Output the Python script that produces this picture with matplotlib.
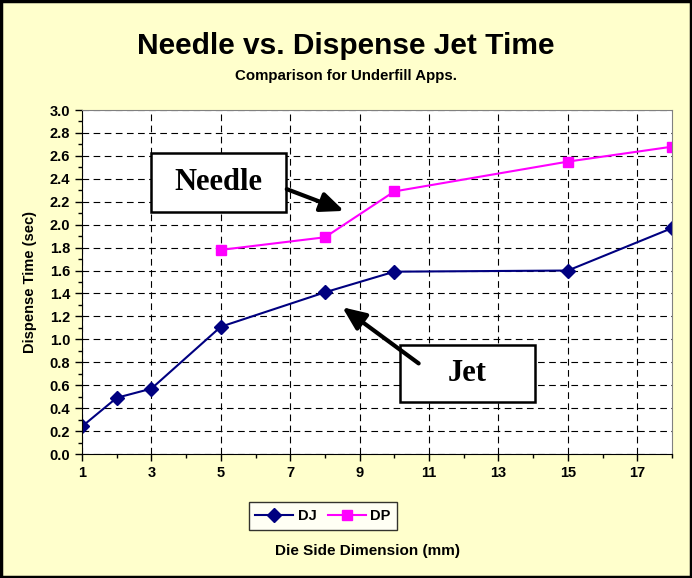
import matplotlib.pyplot as plt
from matplotlib.ticker import MultipleLocator
from matplotlib.patches import Rectangle

plt.rcParams['font.family'] = ['Liberation Sans', 'DejaVu Sans']

dj_x = [1, 2, 3, 5, 8, 10, 15, 18]
dj_y = [0.24, 0.49, 0.57, 1.11, 1.41, 1.59, 1.60, 1.97]
dp_x = [5, 8, 10, 15, 18]
dp_y = [1.78, 1.89, 2.29, 2.55, 2.68]

BG = '#FFFFCC'

fig = plt.figure(figsize=(6.92, 5.78), dpi=100, facecolor=BG)
fig.patches.append(Rectangle((0.002, 0.002), 0.996, 0.996, transform=fig.transFigure,
                             fill=False, edgecolor='black', linewidth=2.5))

ax = fig.add_axes([82 / 692, 1 - 454 / 578, 590 / 692, 344 / 578])
ax.set_facecolor('white')

ax.plot(dj_x, dj_y, color='#000080', marker='D', markersize=7, linewidth=1.5, label='DJ')
ax.plot(dp_x, dp_y, color='#FF00FF', marker='s', markersize=7, linewidth=1.5, label='DP')

ax.set_xlim(1, 18)
ax.set_ylim(0, 3.0)
ax.xaxis.set_minor_locator(MultipleLocator(1))
ax.set_xticks(range(1, 18, 2))
ax.yaxis.set_major_locator(MultipleLocator(0.2))
ax.yaxis.set_minor_locator(MultipleLocator(0.1))
ax.yaxis.set_major_formatter(plt.FormatStrFormatter('%.1f'))
ax.grid(True, which='major', color='black', linestyle=(0, (6, 4)), linewidth=0.8)
ax.tick_params(which='both', direction='out', labelsize=10.5, width=1)
ax.tick_params(which='major', length=5)
ax.tick_params(which='minor', length=3)
for lbl in ax.get_xticklabels() + ax.get_yticklabels():
    lbl.set_fontweight('bold')
for side in ['top', 'right']:
    ax.spines[side].set_color('#808080')

ax.set_ylabel('Dispense Time (sec)', fontsize=10.5, fontweight='bold')
ax.yaxis.set_label_coords(-0.076, 0.5)
ax.set_xlabel('Die Side Dimension (mm)', fontsize=11, fontweight='bold')
ax.xaxis.set_label_coords(0.484, -0.262)

fig.text(0.5, 1 - 46 / 578, 'Needle vs. Dispense Jet Time', ha='center', va='center',
         fontsize=21.5, fontweight='bold')
fig.text(0.5, 1 - 76 / 578, 'Comparison for Underfill Apps.', ha='center', va='center',
         fontsize=10.8, fontweight='bold')

leg = ax.legend(loc='center', bbox_to_anchor=(323 / 692, 1 - 516 / 578),
                bbox_transform=fig.transFigure, ncol=2, frameon=True, fancybox=False,
                prop={'weight': 'bold', 'size': 10.5}, handlelength=2.6, columnspacing=0.8,
                handletextpad=0.3, borderpad=0.45)
leg.get_frame().set_edgecolor('black')
leg.get_frame().set_linewidth(1)

# callout boxes (drawn in data coordinates)
ax.add_patch(Rectangle((2.99, 2.11), 3.89, 0.515, facecolor='white', edgecolor='black',
                       linewidth=1.8, zorder=5))
ax.text(4.93, 2.365, 'Needle', ha='center', va='center', fontsize=22, fontweight='bold',
        family='Liberation Serif', zorder=6)
ax.annotate('', xy=(8.55, 2.12), xytext=(6.9, 2.31),
            arrowprops=dict(arrowstyle='-|>,head_width=0.6,head_length=1.4', color='black',
                            linewidth=3, shrinkA=0, shrinkB=0), zorder=6)
ax.add_patch(Rectangle((10.16, 0.453), 3.89, 0.497, facecolor='white', edgecolor='black',
                       linewidth=1.8, zorder=5))
ax.text(12.1, 0.70, 'Jet', ha='center', va='center', fontsize=22, fontweight='bold',
        family='Liberation Serif', zorder=6)
ax.annotate('', xy=(8.5, 1.28), xytext=(10.7, 0.79),
            arrowprops=dict(arrowstyle='-|>,head_width=0.6,head_length=1.4', color='black',
                            linewidth=3, shrinkA=0, shrinkB=0), zorder=6)

fig.savefig('out.png', dpi=100, facecolor=BG)
